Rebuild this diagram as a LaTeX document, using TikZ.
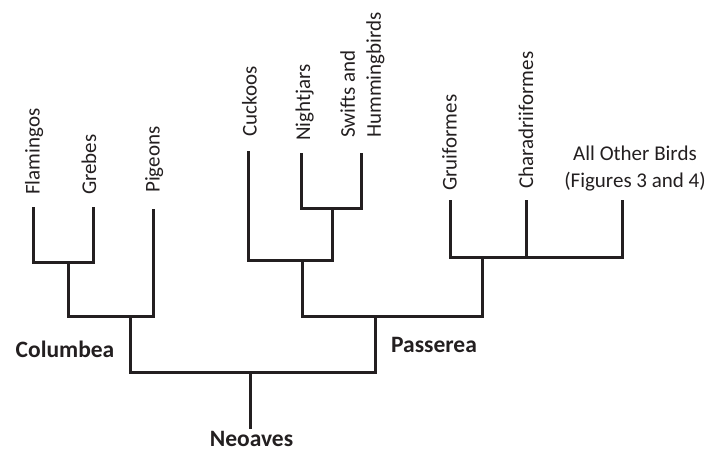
\documentclass[tikz,border=0pt]{standalone}
\usepackage{fontspec}
\setmainfont{Carlito}
\definecolor{ink}{HTML}{231F20}
\tikzset{
  branch/.style={draw=ink, line width=3pt, line join=miter},
  taxon/.style={rotate=90, anchor=base west, inner sep=0pt, text=ink, font=\fontsize{21}{26}\selectfont},
  plainlabel/.style={inner sep=0pt, text=ink, font=\fontsize{21}{27}\selectfont},
  clade/.style={inner sep=0pt, text=ink, font=\fontsize{23.5}{28}\selectfont\bfseries}
}
\begin{document}
\begin{tikzpicture}[x=1pt,y=-1pt]
\useasboundingbox (0,0) rectangle (722,453);
% tips
\coordinate (flam) at (33,207);
\coordinate (greb) at (93,207);
\coordinate (pige) at (153,209);
\coordinate (cuck) at (248,151);
\coordinate (nigh) at (301,153);
\coordinate (swif) at (361,153);
\coordinate (grui) at (450,200);
\coordinate (char) at (526,200);
\coordinate (aob) at (622,200);
% internal nodes
\coordinate (fg) at (68,262);
\coordinate (colu) at (130,316);
\coordinate (neo) at (250,372);
\coordinate (root) at (250,429);
\coordinate (pass) at (375,316);
\coordinate (cucl) at (302,260);
\coordinate (nhsw) at (332,208);
\coordinate (grch) at (482,257);
% branches
\draw[branch] (fg) -| (flam) (fg) -| (greb);
\draw[branch] (colu) -| (fg) (colu) -| (pige);
\draw[branch] (neo) -| (colu) (neo) -| (pass) (neo) -- (root);
\draw[branch] (pass) -| (cucl) (pass) -| (grch);
\draw[branch] (cucl) -| (cuck) (cucl) -| (nhsw);
\draw[branch] (nhsw) -| (nigh) (nhsw) -| (swif);
\draw[branch] (grch) -| (grui) (grch) -| (char) (grch) -| (aob);
% labels
\node[taxon] (lflam) at (39.5,195) {Flamingos};
\node[taxon] (lgreb) at (96,195) {Grebes};
\node[taxon] (lpige) at (159.5,193) {Pigeons};
\node[taxon] (lcuck) at (256.5,137) {Cuckoos};
\node[taxon] (lnigh) at (310,141) {Nightjars};
\node[taxon, anchor=north west, align=left] (lswif) at (340,138) {Swifts and\\Hummingbirds};
\node[taxon] (lgrui) at (456.5,191) {Gruiformes};
\node[taxon] (lchar) at (533,189) {Charadriiformes};
\node[plainlabel, anchor=north, align=center] (laob) at (635,146) {All Other Birds\\(Figures 3 and 4)};
\node[clade] (lcol) at (65,349) {Columbea};
\node[clade] (lpas) at (434,345) {Passerea};
\node[clade] (lneo) at (251.5,439) {Neoaves};
\end{tikzpicture}
\end{document}
